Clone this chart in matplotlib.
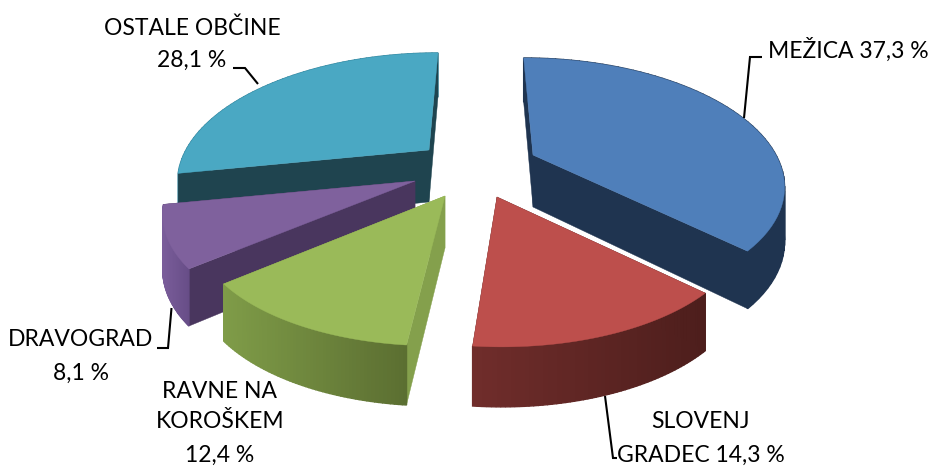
import matplotlib
matplotlib.use("Agg")
import matplotlib.pyplot as plt
import numpy as np
from matplotlib.colors import to_rgb
from matplotlib.patches import Polygon

# slices, clockwise from 12 o'clock
names = ["MEŽICA", "SLOVENJ GRADEC", "RAVNE NA KOROŠKEM", "DRAVOGRAD", "OSTALE OBČINE"]
shares = [37.3, 14.3, 12.4, 8.1, 28.1]

# exploded apex of each slice, in pixels
apex_x = [533, 497, 445, 415, 429]
apex_y = [155, 197, 196, 181, 150]

top_colors = ["#4F7FBA", "#BD4F4C", "#9ABA59", "#7F619D", "#4AA8C3"]
wall_left = ["#1F3450", "#702D2B", "#7F9C48", "#7A5D9A", "#2F8199"]
wall_right = ["#1F3450", "#4D1E1C", "#5B6E31", "#674D87", "#2F8199"]
cut_colors = ["#1F3450", "#4D1E1C", "#84A04C", "#49365E", "#1F444F"]

# draw order, back to front
order = [4, 0, 3, 2, 1]

labels = [
    ("MEŽICA 37,3 %", 848, 50),
    ("SLOVENJ", 700, 421),
    ("GRADEC 14,3 %", 701, 455),
    ("RAVNE NA", 220, 391),
    ("KOROŠKEM", 220, 422),
    ("12,4 %", 220, 455),
    ("DRAVOGRAD", 81, 340),
    ("8,1 %", 81, 373),
    ("OSTALE OBČINE", 192, 28),
    ("28,1 %", 192, 60),
]
leaders = [
    ([744, 750, 762], [118, 57, 57]),
    ([605, 613, 617], [396, 458, 458]),
    ([171.5, 168, 157], [308, 348, 348]),
    ([258, 245, 233], [84, 68, 68]),
]

RX, RY, K = 243, 117.8, 0.214
VANISH_X = 480


def project(theta, cx, cy):
    # perspective of a tilted disc, v > 0 is towards the viewer
    u, v = np.sin(theta), -np.cos(theta)
    s = 1 / (1 - K * v)
    return VANISH_X + (cx - VANISH_X + RX * u) * s, cy + RY * v * s, 52 + 8 * v, v


fig = plt.figure(figsize=(9.31, 4.66), dpi=100)
ax = fig.add_axes([0, 0, 1, 1])
ax.set_xlim(0, 931)
ax.set_ylim(466, 0)
ax.axis("off")

total = sum(shares)
edges = np.cumsum([0] + shares) / total * 2 * np.pi


def draw_wall(x, y, d, keep, c0, c1):
    xmin, xmax = x.min(), x.max()
    for j in range(len(x) - 1):
        if not keep[j]:
            continue
        t = (0.5 * (x[j] + x[j + 1]) - xmin) / (xmax - xmin)
        c = c0 + (c1 - c0) * t
        ax.add_patch(Polygon([(x[j], y[j]), (x[j + 1], y[j + 1]),
                              (x[j + 1], y[j + 1] + d[j + 1]), (x[j], y[j] + d[j])],
                             fc=c, ec=c, lw=1))


for i in order:
    cx, cy = apex_x[i], apex_y[i]
    theta = np.linspace(edges[i], edges[i + 1], 60)
    x, y, d, v = project(theta, cx, cy)
    c0, c1 = np.array(to_rgb(wall_left[i])), np.array(to_rgb(wall_right[i]))

    # back of the wall goes under the cut faces, front of it over them
    draw_wall(x, y, d, v <= 0.2, c0, c1)

    for j in (0, -1):
        ax.add_patch(Polygon([(cx, cy), (x[j], y[j]), (x[j], y[j] + d[j]), (cx, cy + 52)],
                             fc=cut_colors[i], ec=cut_colors[i], lw=0.3))

    draw_wall(x, y, d, v > 0.2, c0, c1)

    # top face
    ax.add_patch(Polygon(np.column_stack([np.r_[cx, x], np.r_[cy, y]]),
                         fc=top_colors[i], ec=top_colors[i], lw=0.3))

for lx, ly in leaders:
    ax.plot(lx, ly, color="black", lw=1.5, solid_capstyle="butt", solid_joinstyle="miter")

for text, tx, ty in labels:
    ax.text(tx, ty, text, ha="center", va="center", fontsize=16.5, family="Lato", color="black")

fig.savefig("out.png", dpi=100)
